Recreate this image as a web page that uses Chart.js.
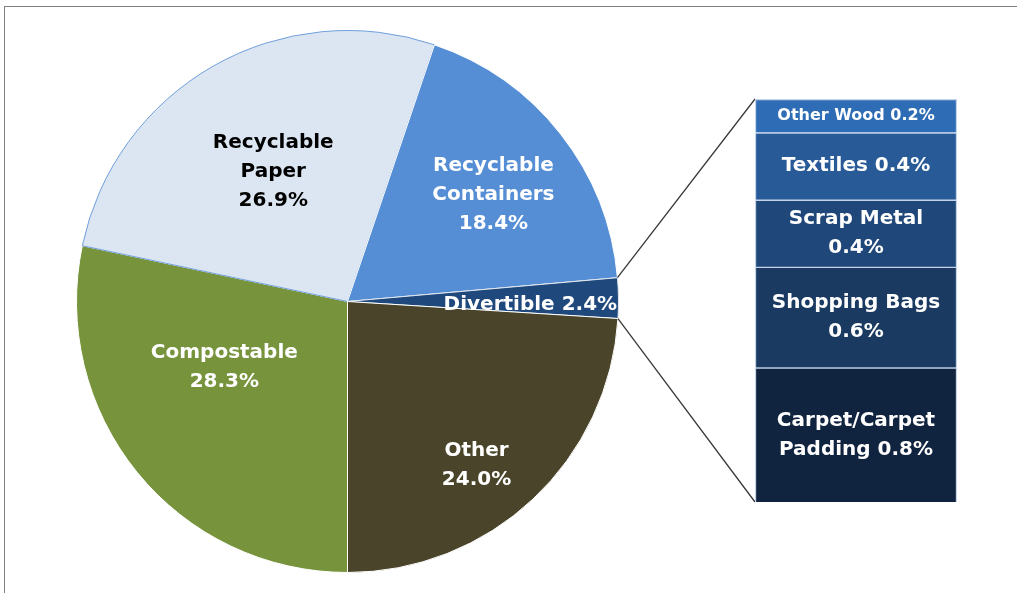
<!DOCTYPE html>
<html>
<head>
<meta charset="utf-8">
<script src="https://cdn.jsdelivr.net/npm/chart.js@4.4.1/dist/chart.umd.min.js"></script>
<style>
  html, body { margin: 0; padding: 0; background: #fff; overflow: hidden; }
  #wrap { position: relative; width: 1017px; height: 593px; overflow: hidden; }
  #frame { position: absolute; left: 4px; top: 6px; width: 1100px; height: 700px; border: 1px solid #7f7f7f; }
  canvas { position: absolute; left: 0; top: 0; }
</style>
</head>
<body>
<div id="wrap">
  <div id="frame"></div>
  <canvas id="pie" width="1017" height="593"></canvas>
  <canvas id="detail" width="1017" height="593"></canvas>
</div>
<script>
// waste composition, clockwise from the bottom of the pie
const wasteTypes = ['Compostable\n', 'Recyclable\nPaper\n', 'Recyclable\nContainers\n', 'Divertible', 'Other\n'];
const wasteShares = [28.3, 26.9, 18.4, 2.4, 24.0];

// breakdown of the divertible slice, stacked from the bottom up
const divertibleTypes = ['Carpet/Carpet\nPadding', 'Shopping Bags\n', 'Scrap Metal\n', 'Textiles', 'Other Wood'];
const divertibleShares = [0.8, 0.6, 0.4, 0.4, 0.2];

const pieColors = ['#77933C', '#DCE6F2', '#558ED5', '#1F497D', '#4A452A'];
const pieBorders = ['#ffffff', '#6f9fdc', '#ffffff', '#dfe6ee', '#ffffff'];
const pieText = ['#ffffff', '#000000', '#ffffff', '#ffffff', '#ffffff'];
// label anchor: fraction of radius, angle nudge in degrees
const pieLabelPos = [[0.515, 11], [0.553, 0], [0.667, 2], [0.995, 1.5], [0.77, 5]];

const detailColors = ['#10233F', '#1A3A61', '#1F4779', '#285A97', '#2E6DB5'];
const detailFonts = [20, 20, 20, 20, 16];

const FONT = '"DejaVu Sans", Verdana, sans-serif';
const pct = v => v.toFixed(1) + '%';
const lines = (name, v) => (name + ' ' + pct(v)).split('\n').map(s => s.trim());

function drawLines(ctx, text, x, y, size, align) {
    ctx.font = `bold ${size}px ${FONT}`;
    ctx.textAlign = align;
    ctx.textBaseline = 'middle';
    const lh = 29;
    const top = y - (text.length - 1) * lh / 2;
    text.forEach((t, i) => ctx.fillText(t, x, top + i * lh));
}

const pieLabels = {
    id: 'pieLabels',
    afterDatasetsDraw(chart) {
        const ctx = chart.ctx;
        ctx.save();
        chart.getDatasetMeta(0).data.forEach((arc, i) => {
            const p = arc.getProps(['x', 'y', 'startAngle', 'endAngle', 'outerRadius']);
            const [frac, nudge] = pieLabelPos[i];
            const a = (p.startAngle + p.endAngle) / 2 + nudge * Math.PI / 180;
            const r = p.outerRadius * frac;
            ctx.fillStyle = pieText[i];
            const align = i === 3 ? 'right' : 'center';
            drawLines(ctx, lines(wasteTypes[i], wasteShares[i]), p.x + r * Math.cos(a), p.y + r * Math.sin(a), 20, align);
        });
        ctx.restore();
    }
};

const pieChart = new Chart(document.getElementById('pie'), {
    type: 'pie',
    data: {
        labels: wasteTypes,
        datasets: [{
            data: wasteShares,
            backgroundColor: pieColors,
            borderColor: pieBorders,
            borderWidth: 1
        }]
    },
    options: {
        responsive: false,
        animation: false,
        rotation: 180,
        layout: { padding: { left: 76, top: 30, right: 398, bottom: 20 } },
        plugins: { legend: { display: false }, tooltip: { enabled: false } }
    },
    plugins: [pieLabels]
});

// lines from the divertible slice out to the breakdown column
const connectors = {
    id: 'connectors',
    beforeDatasetsDraw(chart) {
        const arc = pieChart.getDatasetMeta(0).data[3];
        const p = arc.getProps(['x', 'y', 'startAngle', 'endAngle', 'outerRadius']);
        const { left, top, bottom } = chart.chartArea;
        const ctx = chart.ctx;
        ctx.save();
        ctx.strokeStyle = '#3a3a3a';
        ctx.lineWidth = 1.3;
        ctx.beginPath();
        ctx.moveTo(p.x + p.outerRadius * Math.cos(p.startAngle), p.y + p.outerRadius * Math.sin(p.startAngle));
        ctx.lineTo(left, top);
        ctx.moveTo(p.x + p.outerRadius * Math.cos(p.endAngle), p.y + p.outerRadius * Math.sin(p.endAngle));
        ctx.lineTo(left, bottom);
        ctx.stroke();
        ctx.restore();
    }
};

const detailLabels = {
    id: 'detailLabels',
    afterDatasetsDraw(chart) {
        const ctx = chart.ctx;
        ctx.save();
        ctx.fillStyle = '#ffffff';
        chart.data.datasets.forEach((ds, i) => {
            const bar = chart.getDatasetMeta(i).data[0];
            const c = bar.getCenterPoint();
            drawLines(ctx, lines(divertibleTypes[i], divertibleShares[i]), c.x, c.y, detailFonts[i], 'center');
        });
        ctx.restore();
    }
};

new Chart(document.getElementById('detail'), {
    type: 'bar',
    data: {
        labels: [''],
        datasets: divertibleTypes.map((name, i) => ({
            label: name,
            data: [divertibleShares[i]],
            backgroundColor: detailColors[i],
            borderColor: '#c3d3e8',
            borderWidth: 1.5,
            categoryPercentage: 1,
            barPercentage: 1
        }))
    },
    options: {
        responsive: false,
        animation: false,
        layout: { padding: { left: 755, right: 60, top: 99, bottom: 91 } },
        scales: {
            x: { stacked: true, display: false },
            y: { stacked: true, display: false, min: 0, max: wasteShares[3] }
        },
        plugins: { legend: { display: false }, tooltip: { enabled: false } }
    },
    plugins: [connectors, detailLabels]
});
</script>
</body>
</html>
